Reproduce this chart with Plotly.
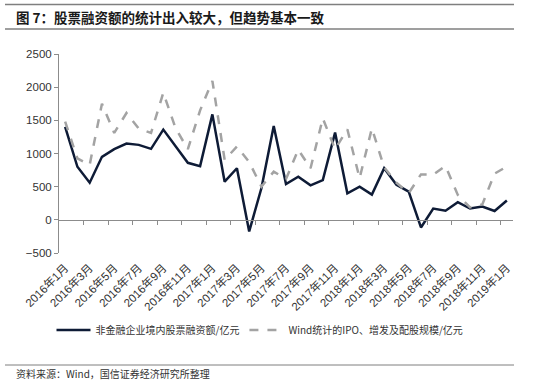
import plotly.graph_objects as go

months = [f"{y}年{m}月" for y in (2016, 2017, 2018) for m in range(1, 13)] + ["2019年1月"]

nonfin_equity = [1400, 800, 560, 950, 1065, 1150, 1130, 1070, 1360, 1110, 860, 810,
                 1590, 575, 778, -175, 480, 1415, 540, 650, 520, 600, 1315, 400,
                 500, 380, 778, 530, 425, -115, 170, 138, 266, 170, 200, 133, 291]
wind_ipo = [1480, 925, 830, 1750, 1310, 1610, 1375, 1310, 1915, 1380, 1065, 1650,
            2095, 905, 1105, 870, 500, 727, 615, 1058, 778, 1530, 1065, 1365,
            627, 1380, 790, 560, 402, 685, 682, 812, 376, 188, 233, 697, 803]

name1 = "非金融企业境内股票融资额/亿元"
name2 = "Wind统计的IPO、增发及配股规模/亿元"
title = "图 7：股票融资额的统计出入较大，但趋势基本一致"
source = "资料来源：Wind，国信证券经济研究所整理"

FONT = "Liberation Sans, Arial, Noto Sans CJK SC, sans-serif"
CJK = "Noto Sans CJK SC, Liberation Sans, sans-serif"

fig = go.Figure()
fig.add_trace(go.Scatter(x=months, y=nonfin_equity, mode="lines", name=name1,
                         line=dict(color="#0e1b36", width=2.5)))
fig.add_trace(go.Scatter(x=months, y=wind_ipo, mode="lines", name=name2,
                         line=dict(color="#a3a3a3", width=2.5, dash="dash")))
# invisible helper so the zero-line axis is drawn
fig.add_trace(go.Scatter(x=[0], y=[0], xaxis="x2", mode="markers",
                         marker=dict(opacity=0), showlegend=False, hoverinfo="skip"))

W, H = 550, 382
L, R, T, B = 59, 37, 54, 129
pw, ph = W - L - R, H - T - B

def px(x):
    return (x - L) / pw

def py(y):
    return (H - B - y) / ph

fig.update_layout(
    width=W, height=H,
    margin=dict(l=L, r=R, t=T, b=B, autoexpand=False),
    paper_bgcolor="white", plot_bgcolor="white",
    showlegend=True,
    legend=dict(orientation="h", x=px(260), xanchor="center", y=py(330), yanchor="middle",
                font=dict(family=CJK, size=10, color="#333333"),
                itemwidth=34, tracegroupgap=0, bgcolor="rgba(0,0,0,0)"),
    xaxis=dict(type="category", categoryorder="array", categoryarray=months,
               range=[-0.5, len(months) - 0.5], automargin=False,
               tickvals=months[::2], ticktext=months[::2],
               tickangle=-45, showline=False, ticks="", showgrid=False,
               ticklabelstandoff=5,
               zeroline=False, tickfont=dict(family=FONT, size=11.5, color="#333333")),
    xaxis2=dict(overlaying="x", anchor="free", position=500 / 3000,
                range=[-0.5, len(months) - 0.5], showgrid=False, zeroline=False,
                showline=True, linecolor="#8c8c8c", linewidth=1, automargin=False,
                ticks="outside", ticklen=4, tickcolor="#8c8c8c",
                tickvals=[i + 0.5 for i in range(1, len(months) - 1, 2)],
                showticklabels=False),
    yaxis=dict(range=[-500, 2500], dtick=500, showgrid=False, zeroline=False,
               showline=True, linecolor="#8c8c8c", linewidth=1, automargin=False,
               ticks="outside", ticklen=4, tickcolor="#8c8c8c",
               tickfont=dict(family=FONT, size=11.5, color="#333333")),
    shapes=[
        dict(type="line", xref="paper", yref="paper", x0=px(5), x1=px(514),
             y0=py(4.5), y1=py(4.5), line=dict(color="#7f7f7f", width=1.5)),
        dict(type="line", xref="paper", yref="paper", x0=px(5), x1=px(514),
             y0=py(29), y1=py(29), line=dict(color="#7f7f7f", width=1.5)),
        dict(type="line", xref="paper", yref="paper", x0=px(5), x1=px(514),
             y0=py(365), y1=py(365), line=dict(color="#7f7f7f", width=1)),
    ],
    annotations=[
        dict(text="<b>" + title + "</b>", xref="paper", yref="paper",
             x=px(14), y=py(16.5), xanchor="left", yanchor="middle", showarrow=False,
             font=dict(family=CJK, size=13.5, color="#1a1a1a")),
        dict(text=source, xref="paper", yref="paper",
             x=px(14), y=py(373.5), xanchor="left", yanchor="middle", showarrow=False,
             font=dict(family=CJK, size=10, color="#333333")),
    ],
)

fig.write_html("out.html", config={"displayModeBar": False},
               post_script="document.body.style.margin='0';")
